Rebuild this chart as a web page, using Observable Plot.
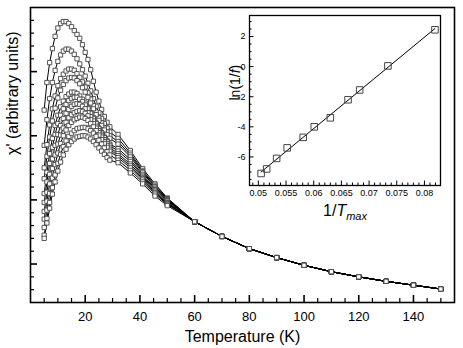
<!DOCTYPE html>
<html><head><meta charset="utf-8">
<script src="https://cdn.jsdelivr.net/npm/d3@7"></script>
<script src="https://cdn.jsdelivr.net/npm/@observablehq/plot@0.6"></script>
<style>
html,body{margin:0;padding:0;background:#fff;}
#wrap{position:relative;width:463px;height:348px;}
#wrap svg{position:absolute;}
</style></head><body><div id="wrap"></div>
<script>
// Temperatures (K) of the low-T measurements, shared by all frequency curves
const temps = [5,6,7,8,9,10,11,12,13,14,15,16,17,18,19,20,21,22,23,24,25,26,27,28,29,32,36.5,41,45.5,50];
// chi' (arbitrary units), one array per frequency (lowest frequency first)
const chi1  = [30.0,34.3,37.4,39.6,41.5,42.8,43.5,43.8,43.8,43.5,43.0,42.4,41.8,41.2,40.2,39.0,37.9,36.3,34.5,32.8,31.4,30.1,29.0,28.1,27.4,26.2,23.7,20.9,18.5,16.3];
const chi2  = [24.5,28.5,31.8,34.3,36.2,37.6,38.6,39.2,39.5,39.5,39.2,38.7,38.0,37.2,36.3,35.3,34.2,33.0,31.8,30.6,29.6,28.7,27.9,27.2,26.6,25.6,23.3,20.6,18.3,16.2];
const chi3  = [21.0,24.6,27.7,30.2,32.2,33.8,34.9,35.6,36.1,36.4,36.4,36.2,35.7,35.1,34.4,33.6,32.7,31.7,30.7,29.7,28.8,28.0,27.2,26.6,26.0,25.1,23.0,20.4,18.1,16.1];
const chi4  = [19.3,22.8,25.8,28.3,30.3,31.9,33.1,34.0,34.6,35.0,35.1,35.0,34.6,34.1,33.5,32.8,32.0,31.1,30.2,29.3,28.4,27.6,26.9,26.2,25.6,24.7,22.7,20.2,18.0,16.0];
const chi5  = [17.0,20.3,23.2,25.6,27.6,29.2,30.5,31.4,32.1,32.5,32.8,32.8,32.6,32.2,31.7,31.1,30.4,29.6,28.8,28.0,27.2,26.5,25.8,25.2,24.7,24.0,22.3,19.9,17.8,15.9];
const chi6  = [15.6,18.8,21.7,24.2,26.2,27.9,29.2,30.2,30.9,31.5,31.8,32.0,32.0,31.7,31.3,30.8,30.2,29.5,28.7,27.9,27.1,26.4,25.7,25.1,24.5,23.6,22.0,19.7,17.6,15.8];
const chi7  = [14.2,17.2,20.0,22.4,24.5,26.2,27.6,28.7,29.5,30.1,30.6,30.9,31.0,30.9,30.6,30.2,29.6,29.0,28.3,27.5,26.8,26.1,25.4,24.8,24.2,23.2,21.6,19.5,17.4,15.6];
const chi8  = [13.0,15.8,18.5,20.9,23.0,24.7,26.1,27.2,28.1,28.8,29.3,29.6,29.8,29.9,29.8,29.5,29.1,28.5,27.9,27.2,26.5,25.8,25.1,24.5,23.9,22.9,21.3,19.3,17.2,15.5];
const chi9  = [11.7,14.4,17.0,19.4,21.5,23.3,24.8,26.0,26.9,27.6,28.1,28.5,28.7,28.9,28.9,28.7,28.4,27.9,27.4,26.8,26.1,25.4,24.8,24.2,23.6,22.6,21.0,19.1,17.1,15.4];
const chi10 = [10.5,13.1,15.6,17.9,19.9,21.7,23.1,24.3,25.2,25.9,26.4,26.8,27.1,27.2,27.3,27.3,27.1,26.8,26.4,25.9,25.3,24.7,24.1,23.5,23.0,22.2,20.6,18.8,16.9,15.3];
const chi11 = [10.0,12.4,14.7,16.9,18.8,20.5,21.9,23.0,23.9,24.6,25.1,25.5,25.8,25.9,26.0,26.0,25.8,25.5,25.1,24.6,24.1,23.6,23.1,22.6,22.2,21.8,20.2,18.5,16.6,15.1];
// High-temperature part, where all curves coincide
const tailT   = [60,70,80,90,100,110,120,130,140,150];
const tailChi = [12.6,10.3,8.4,7.0,5.8,4.8,4.0,3.3,2.7,2.1];
// Main axis ticks
const xMajor = [20,40,60,80,100,120,140];
const xMinor = [5,10,15,25,30,35,45,50,55,65,70,75,85,90,95,105,110,115,125,130,135,145,150];
const yMajor = [6,16,26,36];
const yMinor = [2,4,8,10,12,14,18,20,22,24,28,30,32,34,38,40,42,44];
// Inset: 1/Tmax vs ln(1/f)
const invTmax = [0.0505,0.0515,0.0533,0.0552,0.0581,0.0601,0.0630,0.0662,0.0683,0.0734,0.0819];
const lnInvF  = [-7.1,-6.8,-6.1,-5.4,-4.7,-4.0,-3.4,-2.2,-1.55,0.05,2.45];
const insetXMajor = [0.05,0.055,0.06,0.065,0.07,0.075,0.08];
const insetXMinor = [0.049,0.051,0.052,0.053,0.054,0.056,0.057,0.058,0.059,0.061,0.062,0.063,0.064,0.066,0.067,0.068,0.069,0.071,0.072,0.073,0.074,0.076,0.077,0.078,0.079,0.081,0.082];
const insetYMajor = [-6,-4,-2,0,2];
const insetYMinor = [-7.5,-7,-6.5,-5.5,-5,-4.5,-3.5,-3,-2.5,-1.5,-1,-0.5,0.5,1,1.5,2.5,3];

const curves = [chi1,chi2,chi3,chi4,chi5,chi6,chi7,chi8,chi9,chi10,chi11];
const rows = [];
curves.forEach((c, i) => {
  temps.forEach((t, j) => rows.push({curve: i, T: t, chi: c[j]}));
  tailT.forEach((t, k) => rows.push({curve: i, T: t, chi: tailChi[k]}));
});
const insetRows = invTmax.map((x, i) => ({x, y: lnInvF[i]}));

const font = "'Liberation Sans', Arial, Helvetica, sans-serif";
const W = 463, H = 348, mL = 30, mR = 9, mT = 7, mB = 46;
const fw = W - mL - mR, fh = H - mT - mB;

const main = Plot.plot({
  width: W, height: H,
  marginLeft: mL, marginRight: mR, marginTop: mT, marginBottom: mB,
  x: {domain: [0, 155]},
  y: {domain: [0, 46], axis: null},
  style: {fontFamily: font, background: "transparent", color: "black"},
  marks: [
    Plot.line(rows, {x: "T", y: "chi", z: "curve", stroke: "black", strokeWidth: 1}),
    Plot.dot(rows, {x: "T", y: "chi", symbol: "square", r: 2.4, fill: "white", stroke: "#444", strokeWidth: 0.9}),
    Plot.tickX(xMinor, {x: d => d, insetTop: fh - 4, stroke: "black", strokeWidth: 1.2}),
    Plot.tickX(xMajor, {x: d => d, insetTop: fh - 7, stroke: "black", strokeWidth: 1.6}),
    Plot.tickY(yMinor, {y: d => d, insetRight: fw - 4, stroke: "black", strokeWidth: 1.2}),
    Plot.tickY(yMajor, {y: d => d, insetRight: fw - 7, stroke: "black", strokeWidth: 1.6}),
    Plot.axisX(xMajor, {tickSize: 0, tickPadding: 9, fontSize: 13, label: null}),
    Plot.frame({stroke: "black", strokeWidth: 1.6}),
    Plot.text(["Temperature (K)"], {frameAnchor: "bottom", dy: 34, fontSize: 16, lineAnchor: "middle"}),
    Plot.text(["\u03c7' (arbitrary units)"], {frameAnchor: "left", dx: -18, rotate: -90, fontSize: 16, lineAnchor: "middle"})
  ]
});

const iW = 226, iH = 215, iL = 30, iR = 5, iT = 5, iB = 40;
const ifw = iW - iL - iR, ifh = iH - iT - iB;
const inset = Plot.plot({
  width: iW, height: iH,
  marginLeft: iL, marginRight: iR, marginTop: iT, marginBottom: iB,
  x: {domain: [0.0484, 0.0829]},
  y: {domain: [-7.9, 3.4]},
  style: {fontFamily: font, background: "transparent", color: "black"},
  marks: [
    Plot.frame({fill: "white", stroke: "none"}),
    Plot.linearRegressionY(insetRows, {x: "x", y: "y", stroke: "black", strokeWidth: 1, ci: 0}),
    Plot.dot(insetRows, {x: "x", y: "y", symbol: "square", r: 3.7, fill: "none", stroke: "#444", strokeWidth: 1}),
    Plot.tickX(insetXMinor, {x: d => d, insetTop: ifh - 2.5, stroke: "black", strokeWidth: 1}),
    Plot.tickX(insetXMajor, {x: d => d, insetTop: ifh - 4.5, stroke: "black", strokeWidth: 1}),
    Plot.tickY(insetYMinor, {y: d => d, insetRight: ifw - 2.5, stroke: "black", strokeWidth: 1}),
    Plot.tickY(insetYMajor, {y: d => d, insetRight: ifw - 4.5, stroke: "black", strokeWidth: 1}),
    Plot.axisX(insetXMajor, {tickSize: 0, tickPadding: 4.5, fontSize: 9, tickFormat: d => String(d), label: null}),
    Plot.axisY(insetYMajor, {tickSize: 0, tickPadding: 4, fontSize: 9, tickFormat: d => String(d), label: null}),
    Plot.frame({stroke: "black", strokeWidth: 1.3}),
    Plot.text(["1/Tmax"], {frameAnchor: "bottom", dy: 25, fontSize: 16, lineAnchor: "middle"}),
    Plot.text(["ln(1/f)"], {frameAnchor: "left", dx: -13.5, rotate: -90, fontSize: 14, lineAnchor: "middle"})
  ]
});

const wrap = document.getElementById("wrap");
main.style.left = "0px"; main.style.top = "0px";
inset.style.left = "219px"; inset.style.top = "10px";
wrap.appendChild(main);
wrap.appendChild(inset);

// rich text for 1/T_max
inset.querySelectorAll("text").forEach(t => {
  if (t.textContent === "1/Tmax") {
    t.textContent = "";
    const ns = "http://www.w3.org/2000/svg";
    const a = document.createElementNS(ns, "tspan"); a.textContent = "1/"; t.appendChild(a);
    const b = document.createElementNS(ns, "tspan"); b.textContent = "T"; b.setAttribute("font-style", "italic"); t.appendChild(b);
    const c = document.createElementNS(ns, "tspan"); c.textContent = "max"; c.setAttribute("font-style", "italic");
    c.setAttribute("font-size", "11"); c.setAttribute("dy", "4"); t.appendChild(c);
  }
  if (t.textContent === "ln(1/f)") {
    t.textContent = "";
    const ns = "http://www.w3.org/2000/svg";
    const a = document.createElementNS(ns, "tspan"); a.textContent = "ln(1/"; t.appendChild(a);
    const b = document.createElementNS(ns, "tspan"); b.textContent = "f"; b.setAttribute("font-style", "italic"); t.appendChild(b);
    const c = document.createElementNS(ns, "tspan"); c.textContent = ")"; t.appendChild(c);
  }
});
</script></body></html>
